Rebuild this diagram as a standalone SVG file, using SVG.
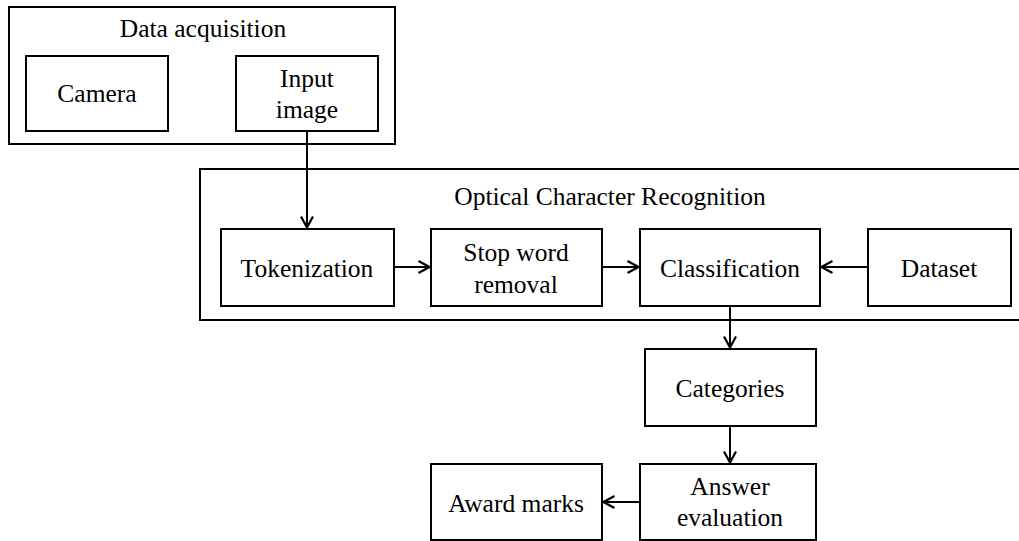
<svg xmlns="http://www.w3.org/2000/svg" width="1019" height="541" viewBox="0 0 1019 541">
<style>
.b{fill:#fff;stroke:#000;stroke-width:2}
.c{fill:none;stroke:#000;stroke-width:2}
text{font-family:"Liberation Serif","Times New Roman",serif;font-size:25.5px;fill:#000;text-anchor:middle}
</style>
<defs>
<marker id="a" viewBox="0 0 14 14" refX="13" refY="7" markerWidth="14" markerHeight="14" markerUnits="userSpaceOnUse" orient="auto">
<path d="M1.5,1 L12.5,7 L1.5,13" fill="none" stroke="#000" stroke-width="2.2"/>
</marker>
</defs>
<rect width="1019" height="541" fill="#fff"/>
<g id="data-acquisition">
<rect class="b" x="9" y="7" width="386" height="137"/>
<text x="203" y="37">Data acquisition</text>
</g>
<g id="camera">
<rect class="b" x="26" y="56" width="142" height="75"/>
<text x="97" y="102">Camera</text>
</g>
<g id="input-image">
<rect class="b" x="236" y="56" width="142" height="75"/>
<text x="307" y="87">Input</text>
<text x="307" y="118">image</text>
</g>
<g id="ocr">
<rect class="b" x="200" y="169" width="830" height="151"/>
<text x="610" y="205">Optical Character Recognition</text>
</g>
<g id="tokenization">
<rect class="b" x="221" y="229" width="173" height="77"/>
<text x="307" y="277">Tokenization</text>
</g>
<g id="stop-word-removal">
<rect class="b" x="431" y="229" width="171" height="77"/>
<text x="516" y="261">Stop word</text>
<text x="516" y="293">removal</text>
</g>
<g id="classification">
<rect class="b" x="640" y="229" width="180" height="77"/>
<text x="730" y="277">Classification</text>
</g>
<g id="dataset">
<rect class="b" x="868" y="229" width="143" height="77"/>
<text x="939" y="277">Dataset</text>
</g>
<g id="categories">
<rect class="b" x="645" y="349" width="171" height="77"/>
<text x="730" y="397">Categories</text>
</g>
<g id="answer-evaluation">
<rect class="b" x="640" y="464" width="176" height="76"/>
<text x="730" y="495">Answer</text>
<text x="730" y="526">evaluation</text>
</g>
<g id="award-marks">
<rect class="b" x="431" y="464" width="171" height="76"/>
<text x="516" y="512">Award marks</text>
</g>
<g id="connectors">
<line class="c" x1="307" y1="131" x2="307" y2="228" marker-end="url(#a)"/>
<line class="c" x1="394" y1="267" x2="430" y2="267" marker-end="url(#a)"/>
<line class="c" x1="602" y1="267" x2="639" y2="267" marker-end="url(#a)"/>
<line class="c" x1="868" y1="267" x2="821" y2="267" marker-end="url(#a)"/>
<line class="c" x1="730" y1="306" x2="730" y2="348" marker-end="url(#a)"/>
<line class="c" x1="730" y1="426" x2="730" y2="463" marker-end="url(#a)"/>
<line class="c" x1="640" y1="502" x2="603" y2="502" marker-end="url(#a)"/>
</g>
</svg>
